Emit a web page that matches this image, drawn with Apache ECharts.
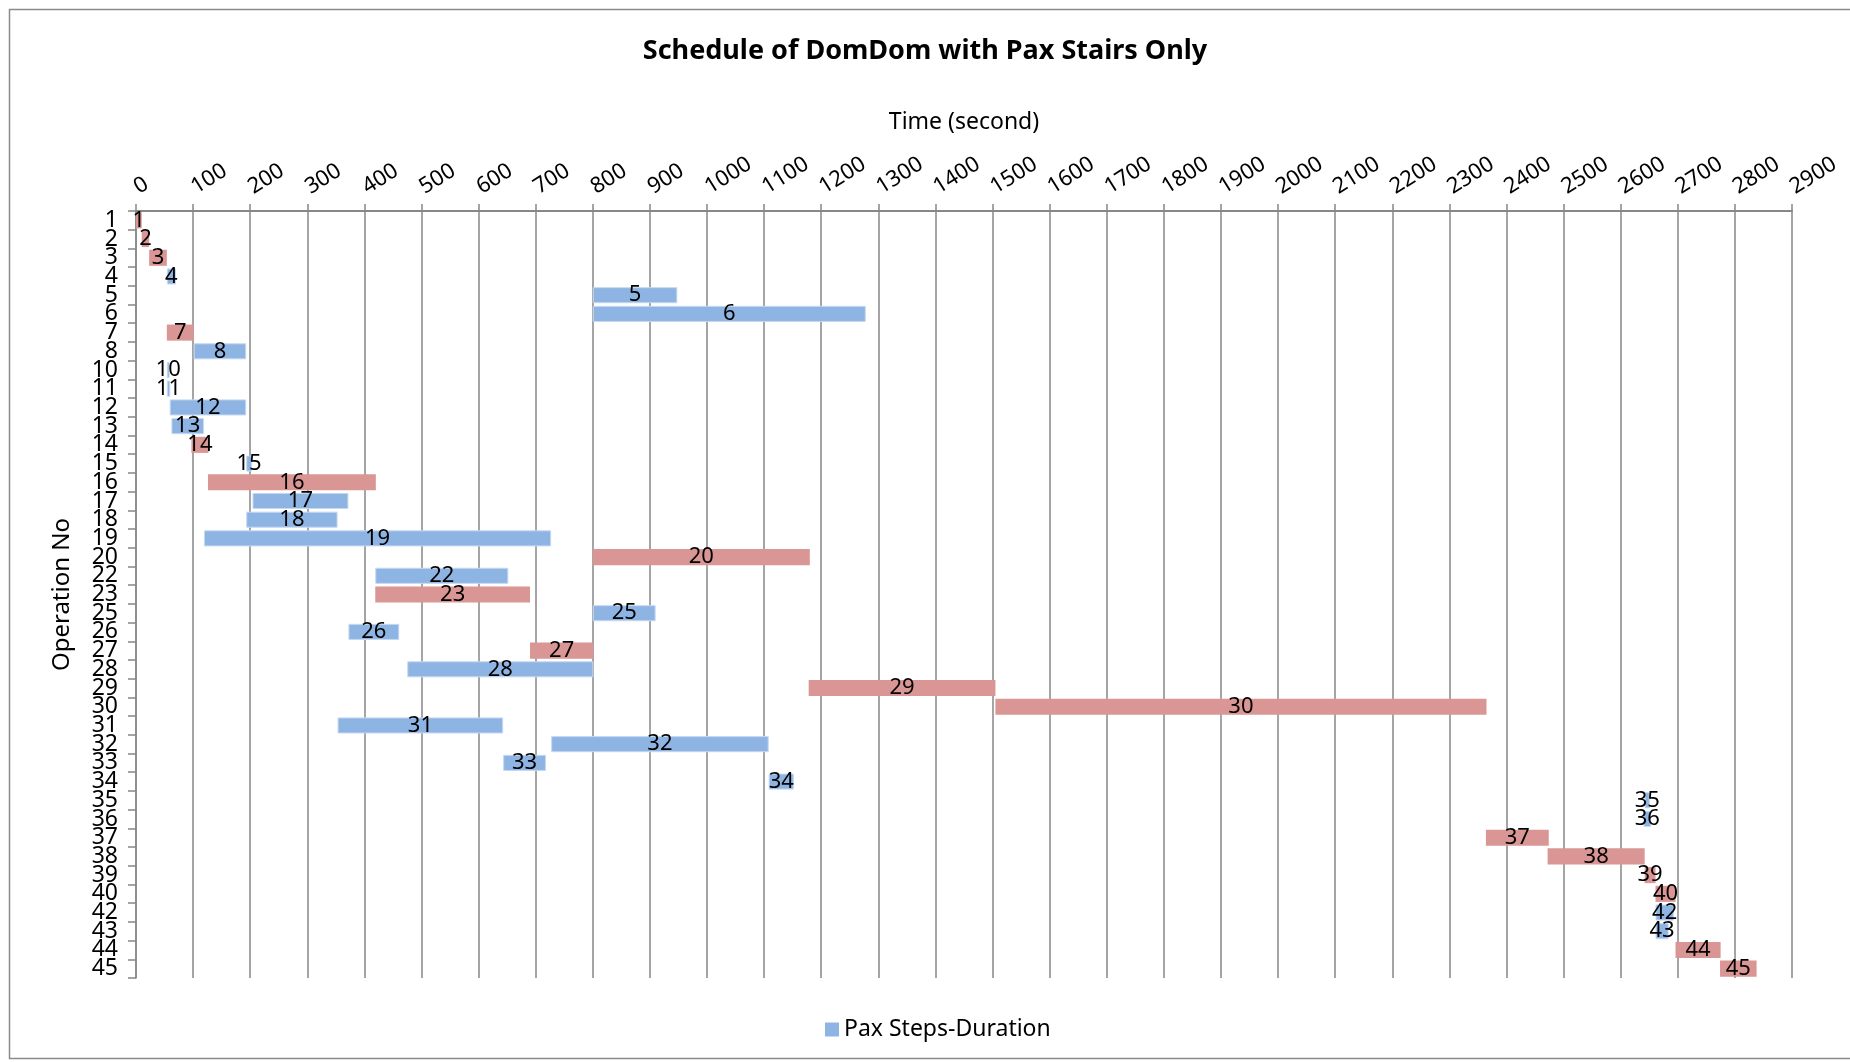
<!DOCTYPE html>
<html>
<head>
<meta charset="utf-8">
<title>Schedule of DomDom with Pax Stairs Only</title>
<script src="https://cdn.jsdelivr.net/npm/echarts@6/dist/echarts.min.js"></script>
<style>
  html, body { margin: 0; padding: 0; background: #fff; }
  #chart { width: 1850px; height: 1062px; }
</style>
</head>
<body>
<div id="chart"></div>
<script>
// operation numbers, top to bottom
const operations = ['1', '2', '3', '4', '5', '6', '7', '8', '10', '11', '12', '13', '14', '15', '16', '17', '18', '19', '20', '22', '23',
  '25', '26', '27', '28', '29', '30', '31', '32', '33', '34', '35', '36', '37', '38', '39', '40', '42', '43', '44', '45']
// start time of each operation (s)
const startTimes = [0, 10, 23, 54, 800, 800, 54, 101, 54, 54, 59, 62, 97, 193, 126, 204, 193, 119, 800, 419, 419,
  800, 372, 690, 475, 1178, 1505, 353, 727, 643, 1108, 2642, 2640, 2364, 2472, 2642, 2661, 2661, 2661, 2696, 2774]
// duration of each operation (s)
const durations = [10, 13, 31, 16, 148, 478, 47, 92, 5, 6, 134, 57, 30, 10, 294, 168, 160, 608, 380, 233, 271,
  110, 89, 111, 326, 327, 860, 290, 381, 75, 44, 9, 13, 110, 170, 19, 35, 32, 23, 79, 64]
// operations drawn in the second (red) colour
const redOperations = ['1', '2', '3', '7', '14', '16', '20', '23', '27', '29', '30', '37', '38', '39', '40', '44', '45']

const BLUE = '#8EB4E3'
const RED = '#D99694'
const GRID = '#878787'
const FONT = 'Noto Sans'

const chart = echarts.init(document.getElementById('chart'))

const barData = durations.map((d, i) => {
  const isRed = redOperations.includes(operations[i])
  return {
    value: d,
    itemStyle: isRed
      ? { color: RED, borderWidth: 0 }
      : { color: BLUE, borderColor: '#C6D9F1', borderWidth: 1 }
  }
})

chart.setOption({
  animation: false,
  textStyle: { fontFamily: FONT, color: '#000' },
  title: {
    text: 'Schedule of DomDom with Pax Stairs Only',
    left: 'center',
    top: 33,
    textStyle: { fontFamily: FONT, fontSize: 27, fontWeight: 'bold', color: '#000' }
  },
  legend: {
    data: ['Pax Steps-Duration'],
    left: 820,
    top: 1013,
    icon: 'rect',
    itemWidth: 14,
    itemHeight: 14,
    itemGap: 8,
    textStyle: { fontFamily: FONT, fontSize: 23, color: '#000' }
  },
  graphic: [
    {
      type: 'rect',
      shape: { x: 9.5, y: 9.5, width: 1860, height: 1049 },
      style: { fill: 'none', stroke: '#8a8a8a', lineWidth: 1.5 },
      silent: true
    }
  ],
  grid: { left: 136, right: 58, top: 211, bottom: 84 },
  xAxis: {
    type: 'value',
    position: 'top',
    min: 0,
    max: 2900,
    interval: 100,
    name: 'Time (second)',
    nameLocation: 'middle',
    nameGap: 77,
    nameTextStyle: { fontFamily: FONT, fontSize: 23, color: '#000' },
    axisLine: { show: true, lineStyle: { color: GRID, width: 2 } },
    axisTick: { show: true, length: 7, lineStyle: { color: GRID, width: 1.5 } },
    axisLabel: {
      rotate: -32,
      fontSize: 22,
      margin: 22,
      color: '#000',
      fontFamily: FONT,
      formatter: v => String(v)
    },
    splitLine: { show: true, lineStyle: { color: GRID, width: 1.5 } }
  },
  yAxis: {
    type: 'category',
    inverse: true,
    data: operations,
    name: 'Operation No',
    nameLocation: 'middle',
    nameGap: 62,
    nameTextStyle: { fontFamily: FONT, fontSize: 24, color: '#000' },
    axisLine: { show: true, lineStyle: { color: GRID, width: 1.5 } },
    axisTick: { show: true, length: 8, lineStyle: { color: GRID, width: 1.5 } },
    axisLabel: { fontSize: 23, margin: 18, color: '#000', fontFamily: FONT, interval: 0, lineHeight: 18 },
    splitLine: { show: false }
  },
  series: [
    {
      name: 'offset',
      type: 'bar',
      stack: 'schedule',
      data: startTimes,
      itemStyle: { color: 'transparent' },
      silent: true,
      barCategoryGap: '14%'
    },
    {
      name: 'Pax Steps-Duration',
      type: 'bar',
      stack: 'schedule',
      data: barData,
      itemStyle: { color: BLUE },
      barCategoryGap: '14%',
      label: {
        show: true,
        position: 'inside',
        formatter: p => operations[p.dataIndex],
        fontFamily: FONT,
        fontSize: 22,
        color: '#000'
      }
    }
  ]
})

window.addEventListener('resize', () => chart.resize())
</script>
</body>
</html>
